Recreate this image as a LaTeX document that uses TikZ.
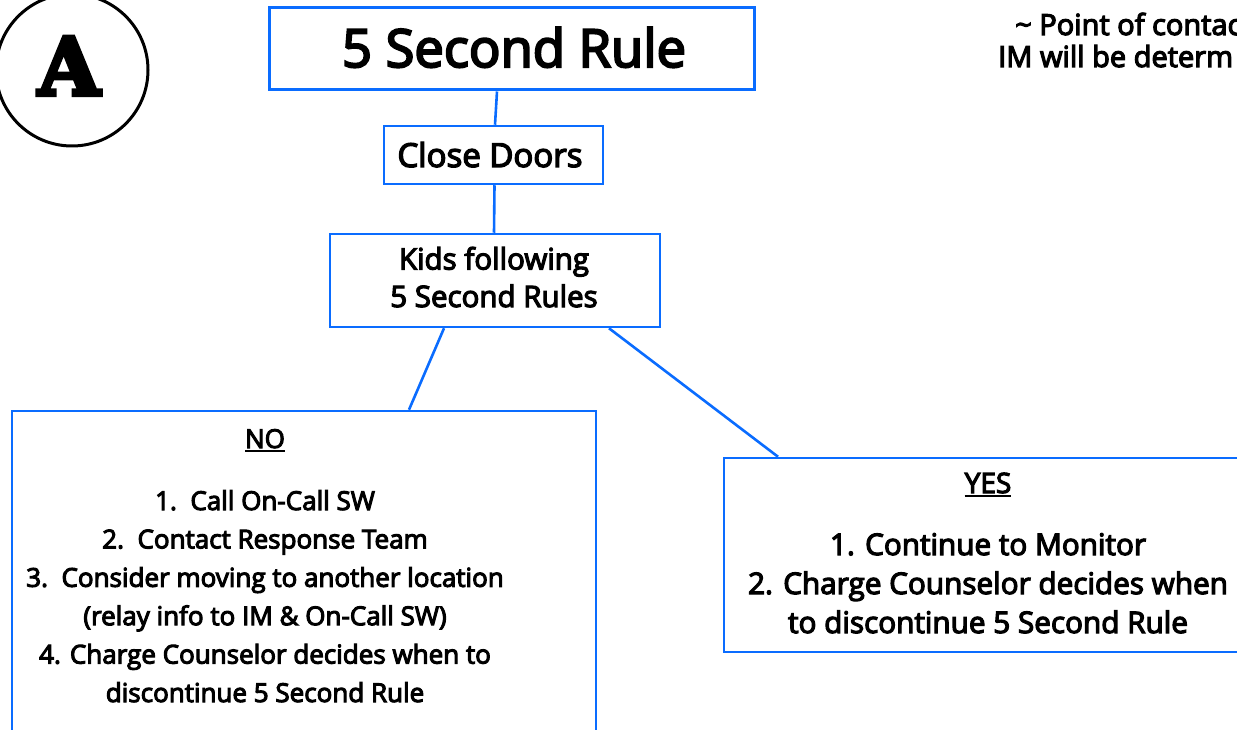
\documentclass[tikz,border=0pt]{standalone}
\usepackage{fontspec}
\setmainfont{Open Sans}[FakeBold=4]
\newfontfamily\Afont{DejaVu Serif}[FakeBold=5]
\definecolor{boxblue}{RGB}{10,108,255}
\newcommand\ulx[1]{\setbox0\hbox{#1}\rlap{\rule[-4pt]{\wd0}{1.8pt}}\box0}
\begin{document}
\begin{tikzpicture}[x=1pt,y=-1pt,
  box/.style={draw=boxblue, line width=2.5pt, inner sep=0pt},
  conn/.style={draw=boxblue, line width=2.6pt},
  txt/.style={inner sep=0pt, align=center}]
\useasboundingbox (0,0) rectangle (1237,730);
\clip (0,0) rectangle (1237,730);
% badge
\node[circle, draw=black, line width=3pt, minimum size=152pt, inner sep=0pt] (circ) at (72,70) {};
\node[txt, anchor=base, font=\Afont\bfseries\fontsize{80}{80}\selectfont] (A) at (69,95) {A};
% boxes
\node[box, line width=3pt, minimum width=485pt, minimum height=82pt] (title) at (512,49) {};
\node[txt, anchor=base, font=\fontsize{52.5}{60}\selectfont] (titletext) at (514,67) {5 Second Rule};
\node[box, minimum width=219pt, minimum height=58pt] (close) at (493.5,155) {};
\node[txt, anchor=base, font=\fontsize{33}{40}\selectfont] (closetext) at (490,167) {Close Doors};
\node[box, minimum width=330pt, minimum height=93pt] (kids) at (495,280.5) {};
\node[txt, anchor=base, font=\fontsize{29.5}{37.5}\selectfont] (kidstext) at (494,307) {Kids following\\5 Second Rules};
\node[box, minimum width=584pt, minimum height=329pt] (no) at (304,575.5) {};
\node[txt, anchor=base, font=\fontsize{26}{38.5}\selectfont] (nohead) at (265,448) {\ulx{NO}};
\node[txt, anchor=base, font=\fontsize{26}{38.4}\selectfont] (notext) at (265,702) {1.\ \ Call On-Call SW\\
2.\ \ Contact Response Team\\
3.\ \ Consider moving to another location\\
(relay info to IM \& On-Call SW)\\
4. Charge Counselor decides when to\\
discontinue 5 Second Rule};
\node[box, minimum width=521pt, minimum height=194pt] (yes) at (984.5,555) {};
\node[txt, anchor=base, font=\fontsize{28}{38.5}\selectfont] (yeshead) at (988,493) {\ulx{YES}};
\node[txt, anchor=base, font=\fontsize{29.7}{39}\selectfont] (yestext) at (988,633) {1. Continue to Monitor\\
2. Charge Counselor decides when\\
to discontinue 5 Second Rule};
% note at top right
\node[txt, anchor=base west, font=\fontsize{29}{32}\selectfont] (note1) at (1015,35) {\textasciitilde\ Point of contac};
\node[txt, anchor=base west, font=\fontsize{29}{32}\selectfont] (note2) at (998,67) {IM will be determ};
% connectors
\draw[conn] ([xshift=-15pt]title.south) -- ([xshift=1.5pt]close.north);
\draw[conn] ([xshift=1pt]close.south) -- ([xshift=-1pt]kids.north);
\draw[conn] ([xshift=-51pt]kids.south) -- ([xshift=105pt]no.north);
\draw[conn] ([xshift=114pt]kids.south) -- ([xshift=-206.5pt]yes.north);
\end{tikzpicture}
\end{document}
